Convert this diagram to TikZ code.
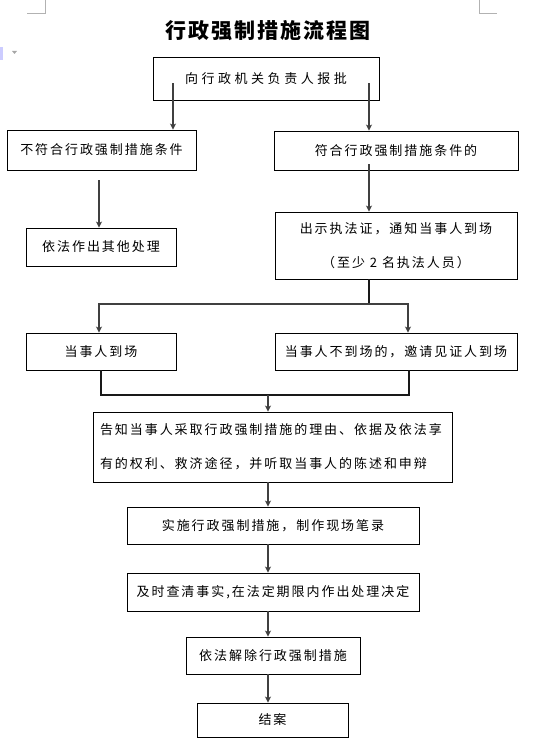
\documentclass[tikz,border=0pt]{standalone}
\usepackage{fontspec}
\newfontfamily\cjk[LetterSpace=15]{Noto Sans CJK SC}
\newfontfamily\cjkwide[LetterSpace=27]{Noto Sans CJK SC}
\newfontfamily\cjktitle[LetterSpace=10]{Noto Sans CJK SC}
\usetikzlibrary{arrows.meta}

\begin{document}
\begin{tikzpicture}[x=1pt, y=-1pt,
  every node/.style={font=\cjk\fontsize{13}{34}\selectfont},
  box/.style={draw, line width=0.8pt, inner sep=0pt},
  arr/.style={line width=1.6pt, draw=black!75, -{Stealth[length=6pt,width=6pt,inset=1.5pt]}},
  link/.style={line width=1.6pt, draw=black!90}]
  \useasboundingbox (0,0) rectangle (534,752);

  % page marks
  \draw[black!30, line width=0.6pt] (27,13) -- (45,13) -- (45,0);
  \draw[black!30, line width=0.6pt] (479,0) -- (479,13) -- (497,13);
  \fill[blue!20] (0,47) rectangle (3,60);
  \fill[black!35] (12,51) -- (17,51) -- (14.5,54) -- cycle;

  % title
  \node[font=\cjktitle\bfseries\fontsize{21}{21}\selectfont] (title) at (268,31) {行政强制措施流程图};

  % boxes
  \node[box, minimum width=226, minimum height=43, font=\cjkwide\fontsize{13}{14}\selectfont] (report) at (266,78.5) {向行政机关负责人报批};
  \node[box, minimum width=189, minimum height=40] (unmet) at (101.5,150) {不符合行政强制措施条件};
  \node[box, minimum width=244, minimum height=39] (met) at (396,150.5) {符合行政强制措施条件的};
  \node[box, minimum width=150, minimum height=38] (other) at (101,247) {依法作出其他处理};
  \node[box, minimum width=242, minimum height=67, align=center] (show) at (396,245.5) {出示执法证，通知当事人到场\\（至少 2 名执法人员）};
  \node[box, minimum width=150, minimum height=37] (present) at (101,351.5) {当事人到场};
  \node[box, minimum width=242, minimum height=37] (absent) at (396,351.5) {当事人不到场的，邀请见证人到场};
  \node[box, minimum width=359, minimum height=70, text width=345, align=left] (inform) at (272.5,447) {告知当事人采取行政强制措施的理由、依据及依法享\\有的权利、救济途径，并听取当事人的陈述和申辩};
  \node[box, minimum width=292, minimum height=37] (execute) at (273,525.5) {实施行政强制措施，制作现场笔录};
  \node[box, minimum width=292, minimum height=38] (verify) at (273,592) {及时查清事实,在法定期限内作出处理决定};
  \node[box, minimum width=174, minimum height=37] (lift) at (273,655.5) {依法解除行政强制措施};
  \node[box, minimum width=151, minimum height=34] (close) at (272.5,720) {结案};

  % branch from report
  \coordinate (rl) at (173,83);
  \coordinate (rr) at (369,83);
  \draw[arr] (rl) -- (rl |- unmet.north);
  \draw[arr] (rr) -- (rr |- met.north);

  \coordinate (ul) at (99,180);
  \draw[arr] (ul) -- (ul |- other.north);
  \coordinate (ml) at (369,164);
  \draw[arr] (ml) -- (ml |- show.north);

  % split
  \coordinate (split) at (369,304);
  \draw[link] (show.south -| split) -- (split);
  \draw[arr] (split) -| ([xshift=-2pt]present.north);
  \draw[arr] (split) -| ([xshift=12pt]absent.north);

  % merge
  \coordinate (merge) at (268,395);
  \draw[link] (present.south) |- (merge);
  \draw[link] ([xshift=13pt]absent.south) |- (merge);
  \draw[arr] (merge) -- (merge |- inform.north);

  \foreach \a/\b in {inform/execute, execute/verify, verify/lift, lift/close}
    \draw[arr] (\a.south -| merge) -- (\b.north -| merge);
\end{tikzpicture}
\end{document}
